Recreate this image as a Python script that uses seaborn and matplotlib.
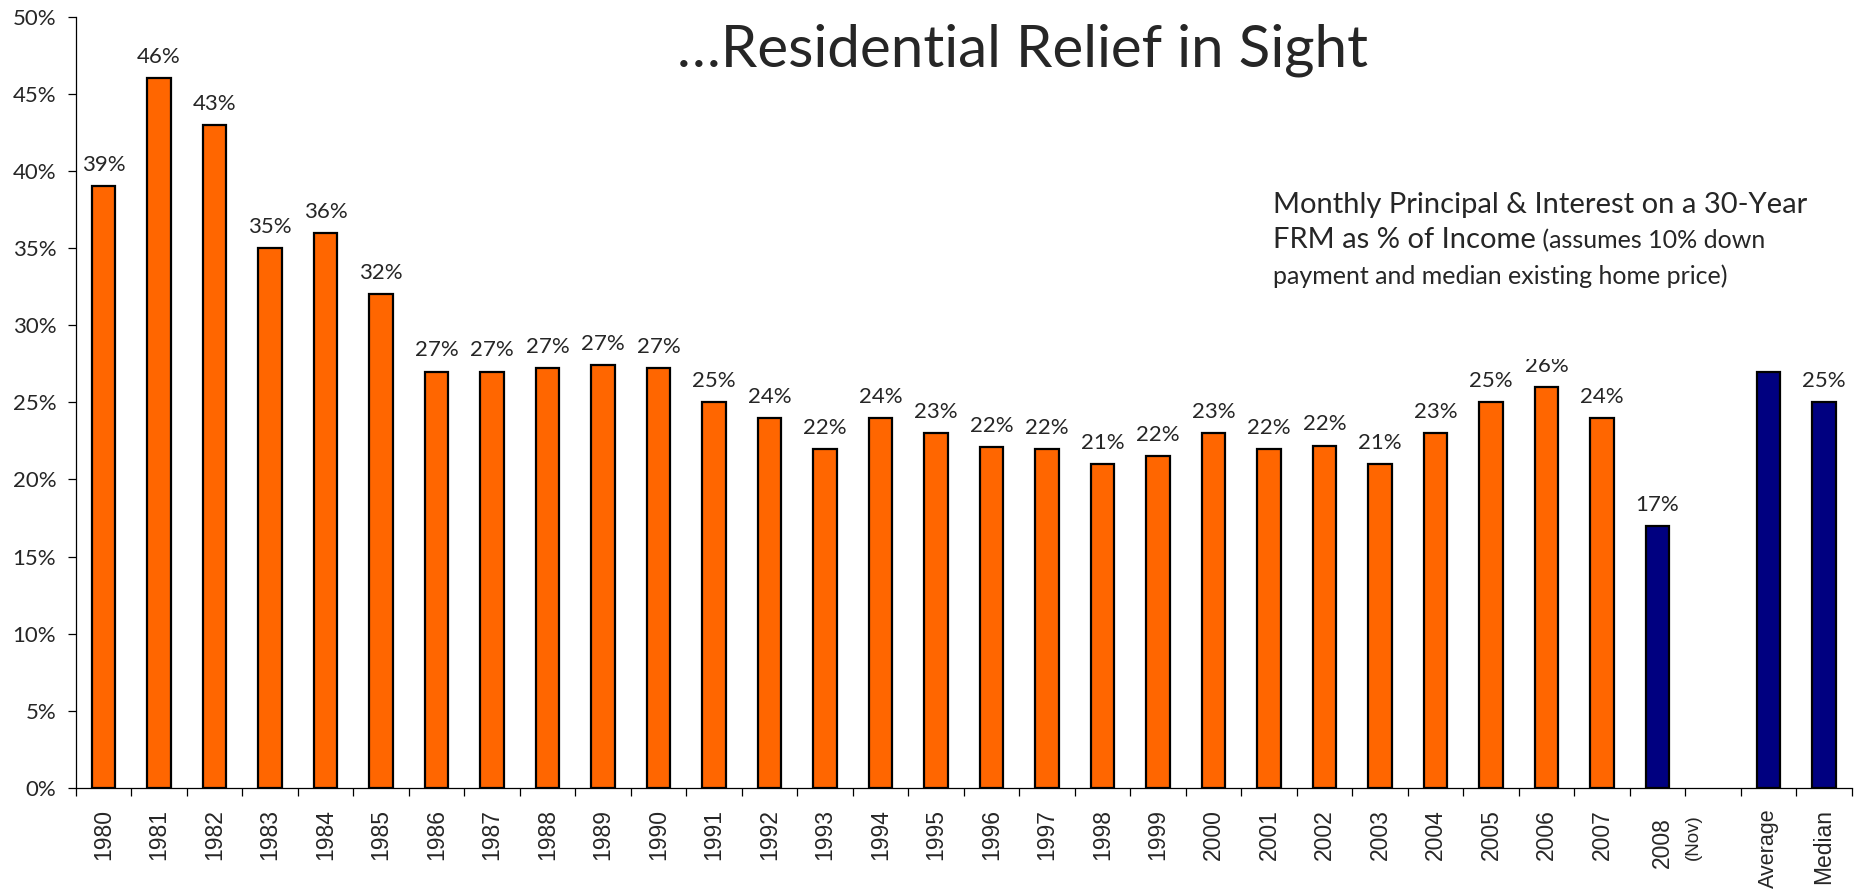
import matplotlib
matplotlib.use("Agg")
import matplotlib.pyplot as plt
import matplotlib.transforms as mtrans
from matplotlib.patches import Rectangle
from matplotlib.text import Annotation
import seaborn as sns
import numpy as np
import pandas as pd
from matplotlib.ticker import FixedLocator

categories = ["1980", "1981", "1982", "1983", "1984", "1985", "1986", "1987", "1988", "1989",
              "1990", "1991", "1992", "1993", "1994", "1995", "1996", "1997", "1998", "1999",
              "2000", "2001", "2002", "2003", "2004", "2005", "2006", "2007", "2008", " ",
              "Average", "Median"]
values = [39, 46, 43, 35, 36, 32, 27, 27, 27.2, 27.4,
          27.2, 25, 24, 22, 24, 23, 22.1, 22, 21, 21.5,
          23, 22, 22.2, 21, 23, 25, 26, 24, 17, np.nan,
          27, 25]
bar_labels = ["39%", "46%", "43%", "35%", "36%", "32%", "27%", "27%", "27%", "27%",
              "27%", "25%", "24%", "22%", "24%", "23%", "22%", "22%", "21%", "22%",
              "23%", "22%", "22%", "21%", "23%", "25%", "26%", "24%", "17%", "",
              "", "25%"]
groups = ["hist"] * 28 + ["recent", "blank", "summary", "summary"]
y_ticks = [0, 5, 10, 15, 20, 25, 30, 35, 40, 45, 50]
y_tick_labels = [f"{t}%" for t in y_ticks]

title = "…Residential Relief in Sight"
note_line1 = "Monthly Principal & Interest on a 30-Year"
note_line2a = "FRM as % of Income"
note_line2b = " (assumes 10% down"
note_line3 = "payment and median existing home price)"
sub_2008 = "(Nov)"

ORANGE = "#FF6600"
NAVY = "#000080"
palette = {c: (NAVY if g in ("recent", "summary") else ORANGE) for c, g in zip(categories, groups)}

df = pd.DataFrame({"cat": categories, "val": values})

sns.set_style("white")
plt.rcParams["font.family"] = ["Lato", "DejaVu Sans"]
ARIAL = ["Liberation Sans", "DejaVu Sans"]

fig = plt.figure(figsize=(18.65, 8.9), dpi=100)
ax = fig.add_axes([0.0406, 0.1146, 0.9929 - 0.0406, 0.9812 - 0.1146])

sns.barplot(data=df, x="cat", y="val", hue="cat", order=categories, hue_order=categories,
            palette=palette, legend=False, width=0.42, edgecolor="black", linewidth=1.6,
            saturation=1, ax=ax, errorbar=None)

ax.set_xlim(-0.5, len(categories) - 0.5)
ax.set_ylim(0, 50)
ax.set_yticks(y_ticks)
ax.set_yticklabels(y_tick_labels, fontsize=16)
ax.tick_params(axis="y", direction="out", length=6, width=0.9, color="black", left=True, pad=8)

ax.set_xticks(range(len(categories)))
ax.set_xticklabels(categories, rotation=90, fontsize=16.5, va="top", ha="center", family=ARIAL)
ax.tick_params(axis="x", which="major", length=0, pad=15)
ax.xaxis.set_minor_locator(FixedLocator(np.arange(-0.5, len(categories), 1.0)))
ax.tick_params(axis="x", which="minor", direction="out", length=6, width=0.9, color="black", bottom=True)

xtl = ax.get_xticklabels()
xtl[categories.index("Average")].set_fontsize(15.5)
idx2008 = categories.index("2008")
xtl[idx2008].set_transform(xtl[idx2008].get_transform() +
                           mtrans.ScaledTranslation(3.6 / 72, -5.8 / 72, fig.dpi_scale_trans))
nov_tr = ax.get_xaxis_transform() + mtrans.ScaledTranslation(0, -19 / 72, fig.dpi_scale_trans)
ax.text(idx2008 + 0.64, 0, sub_2008, transform=nov_tr, rotation=90, ha="center", va="top",
        fontsize=13.5, family=ARIAL)

ax.set_xlabel("")
ax.set_ylabel("")
for s in ["top", "right"]:
    ax.spines[s].set_visible(False)
for s in ["left", "bottom"]:
    ax.spines[s].set_color("black")
    ax.spines[s].set_linewidth(0.9)

for i, (v, lab) in enumerate(zip(values, bar_labels)):
    if lab and not np.isnan(v):
        ax.annotate(lab, (i, v), xytext=(0, 8), textcoords="offset points",
                    ha="center", va="bottom", fontsize=16)

fig.text(0.5485, 0.944, title, ha="center", va="center", fontsize=42)

# white text box behind the note (it hides the top of the 2006 label, as in the original)
box = Rectangle((1255 / 1865, 1 - 359 / 890), (1610 - 1255) / 1865, (359 - 140) / 890,
                transform=fig.transFigure, facecolor="white", edgecolor="none", zorder=2)
fig.add_artist(box)

fig.text(0.6827, 0.7702, note_line1, ha="left", va="center", fontsize=21, zorder=3)
t2 = fig.text(0.6827, 0.730, note_line2a, ha="left", va="center", fontsize=21, zorder=3)
fig.text(0.6827, 0.690, note_line3, ha="left", va="center", fontsize=18, zorder=3)
ann = Annotation(note_line2b, xy=(1, 0), xycoords=t2, xytext=(0, 1), textcoords="offset points",
                 ha="left", va="bottom", fontsize=18, zorder=3)
ann.set_figure(fig)
fig.texts.append(ann)

fig.savefig("out.png", dpi=100)
